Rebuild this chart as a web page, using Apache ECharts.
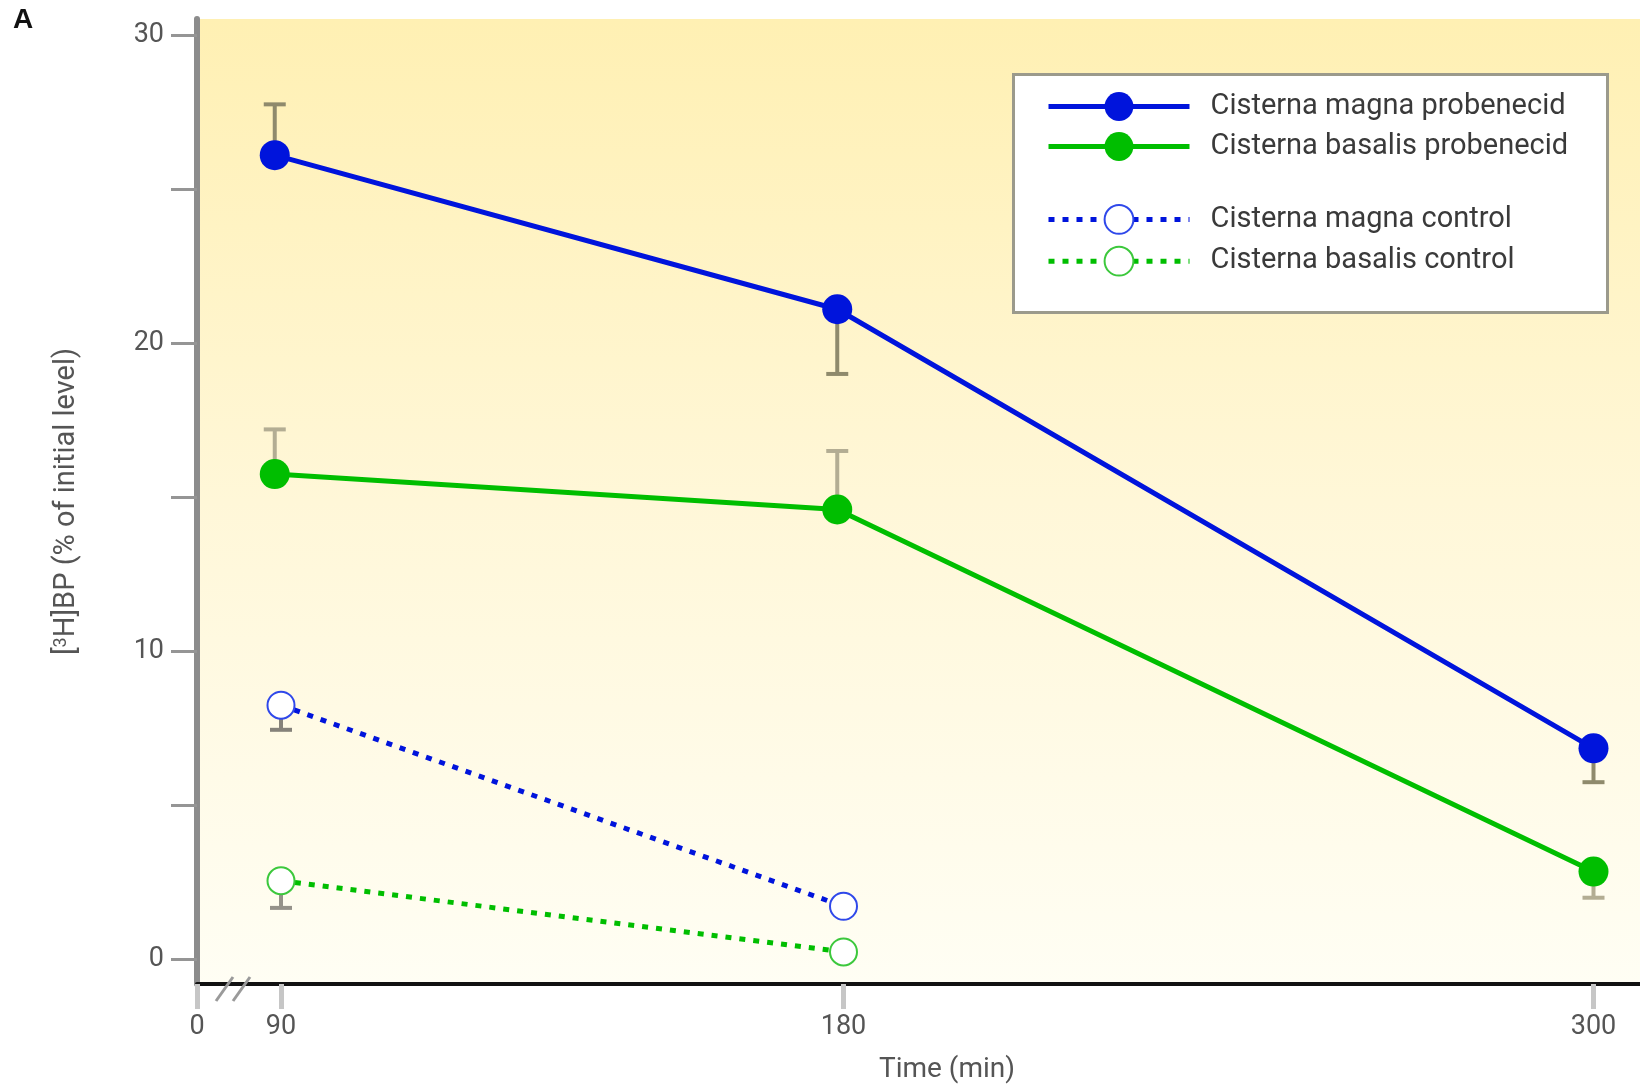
<!DOCTYPE html>
<html>
<head>
<meta charset="utf-8">
<script src="https://cdn.jsdelivr.net/npm/echarts@6/dist/echarts.min.js"></script>
<style>
html,body{margin:0;padding:0;background:#fff;}
#c{width:1640px;height:1089px;}
</style>
</head>
<body>
<div id="c"></div>
<script>
// ---- data ----
const seriesNames = ['Cisterna magna probenecid','Cisterna basalis probenecid','Cisterna magna control','Cisterna basalis control'];
const probenecidTimes = [89, 179, 300];
const controlTimes = [90, 180];
const magnaProbenecid = [26.1, 21.1, 6.85];
const magnaProbenecidErr = [1.65, -2.1, -1.1];      // sign = direction of the drawn bar
const basalisProbenecid = [15.75, 14.6, 2.85];
const basalisProbenecidErr = [1.45, 1.9, -0.85];
const magnaControl = [8.25, 1.72];
const magnaControlErr = [-0.8, 0];
const basalisControl = [2.55, 0.24];
const basalisControlErr = [-0.88, 0];
const xTickValues = [90, 180, 300];
const xBreakLabel = '0';
const yTickValues = [0, 5, 10, 15, 20, 25, 30];
const yLabelValues = [0, 10, 20, 30];

const X_MIN = 76.56, X_MAX = 307.44, Y_MIN = -0.8, Y_MAX = 30.52;
const FONT = 'Roboto, "Noto Sans", sans-serif';

function pairs(xs, ys){ return xs.map((x,i)=>[x, ys[i]]); }
function errPairs(xs, ys, es){ return xs.map((x,i)=>[x, ys[i], ys[i]+es[i]]).filter(d=>d[2]!==d[1]); }

function errSeries(data, color){
  return {
    type:'custom', z:1, silent:true,
    data: data,
    renderItem: function(params, api){
      const p0 = api.coord([api.value(0), api.value(1)]);
      const p1 = api.coord([api.value(0), api.value(2)]);
      return {type:'group', children:[
        {type:'line', shape:{x1:p0[0],y1:p0[1],x2:p1[0],y2:p1[1]}, style:{stroke:color,lineWidth:4}},
        {type:'line', shape:{x1:p1[0]-11,y1:p1[1],x2:p1[0]+11,y2:p1[1]}, style:{stroke:color,lineWidth:4}}
      ]};
    }
  };
}

const BLUE = '#0014DC', GREEN = '#00BE00';
const legendText = {fontSize:29, color:'#3a3a3a', fontFamily:FONT, padding:[0,0,0,16]};
const chart = echarts.init(document.getElementById('c'));
chart.setOption({
  animation:false,
  textStyle:{fontFamily:FONT},
  grid:{left:197, right:0, top:19, bottom:100, show:true, borderWidth:0,
    backgroundColor:{type:'linear',x:0,y:0,x2:0,y2:1,colorStops:[
      {offset:0,color:'#FFF0B3'},{offset:0.5,color:'#FFF7D8'},{offset:1,color:'#FFFEF4'}]}},
  xAxis:{
    type:'value', min:X_MIN, max:X_MAX,
    axisLine:{show:true, onZero:false, lineStyle:{color:'#111', width:4}},
    axisTick:{show:true, customValues:[X_MIN].concat(xTickValues), length:25, lineStyle:{color:'#c6c6c6', width:5}},
    axisLabel:{customValues:[X_MIN].concat(xTickValues), margin:30, fontSize:27, color:'#555', fontFamily:FONT,
      formatter:v => (Math.abs(v-X_MIN)<1e-6 ? xBreakLabel : String(v))},
    splitLine:{show:false},
    name:'Time (min)', nameLocation:'middle', nameGap:72,
    nameTextStyle:{fontSize:28, color:'#555', fontFamily:FONT, padding:[0,0,0,57]}
  },
  yAxis:{
    type:'value', min:Y_MIN, max:Y_MAX,
    axisLine:{show:true, onZero:false, lineStyle:{color:'#8c8c8c', width:6}},
    axisTick:{show:true, customValues:yTickValues, length:26, lineStyle:{color:'#959595', width:3}},
    axisLabel:{customValues:yLabelValues, margin:33, fontSize:27, color:'#555', fontFamily:FONT},
    splitLine:{show:false},
    name:'[{sup|3}H]BP (% of initial level)', nameLocation:'middle', nameGap:115,
    nameTextStyle:{fontSize:29, color:'#555', fontFamily:FONT,
      rich:{sup:{fontSize:18, color:'#555', fontFamily:FONT, padding:[0,0,12,0]}}}
  },
  legend:[
    {data:[seriesNames[0], seriesNames[1]], orient:'vertical', left:1046, top:92, padding:0,
     itemWidth:141, itemHeight:36, itemGap:11, z:10, lineStyle:{width:5},
     textStyle:legendText},
    {data:[seriesNames[2], seriesNames[3]], orient:'vertical', left:1046, top:204, padding:0,
     itemWidth:141, itemHeight:36, itemGap:11, z:10, lineStyle:{width:5},
     textStyle:legendText}
  ],
  graphic:[
    {type:'rect', left:1012, top:73, z:5, shape:{width:594, height:238},
     style:{fill:'#fff', stroke:'#9b9a8c', lineWidth:3}},
    {type:'text', left:13, top:6, z:5, style:{text:'A', fontSize:28, fontWeight:'bold', fill:'#111', fontFamily:'"Liberation Sans", Arial, sans-serif'}},
    {type:'line', z:20, shape:{x1:216,y1:1001,x2:233,y2:977}, style:{stroke:'#9a9a9a', lineWidth:3}},
    {type:'line', z:20, shape:{x1:233,y1:1001,x2:250,y2:977}, style:{stroke:'#9a9a9a', lineWidth:3}}
  ],
  series:[
    errSeries(errPairs(probenecidTimes, magnaProbenecid, magnaProbenecidErr), '#8f8a6c'),
    errSeries(errPairs(probenecidTimes, basalisProbenecid, basalisProbenecidErr), '#b3ad93'),
    errSeries(errPairs(controlTimes, magnaControl, magnaControlErr), '#85827a'),
    errSeries(errPairs(controlTimes, basalisControl, basalisControlErr), '#95928a'),
    {name:seriesNames[0], type:'line', z:3, data:pairs(probenecidTimes, magnaProbenecid),
     symbol:'circle', symbolSize:30, lineStyle:{color:BLUE, width:5}, itemStyle:{color:BLUE}},
    {name:seriesNames[1], type:'line', z:3, data:pairs(probenecidTimes, basalisProbenecid),
     symbol:'circle', symbolSize:30, lineStyle:{color:GREEN, width:5}, itemStyle:{color:GREEN}},
    {name:seriesNames[2], type:'line', z:3, data:pairs(controlTimes, magnaControl),
     symbol:'emptyCircle', symbolSize:27, lineStyle:{color:BLUE, width:5, type:[6,8]},
     itemStyle:{color:'#2f48ea', borderColor:'#2f48ea', borderWidth:2.5}},
    {name:seriesNames[3], type:'line', z:3, data:pairs(controlTimes, basalisControl),
     symbol:'emptyCircle', symbolSize:27, lineStyle:{color:GREEN, width:5, type:[6,8]},
     itemStyle:{color:'#3cc83c', borderColor:'#3cc83c', borderWidth:2.5}}
  ]
});
</script>
</body>
</html>
